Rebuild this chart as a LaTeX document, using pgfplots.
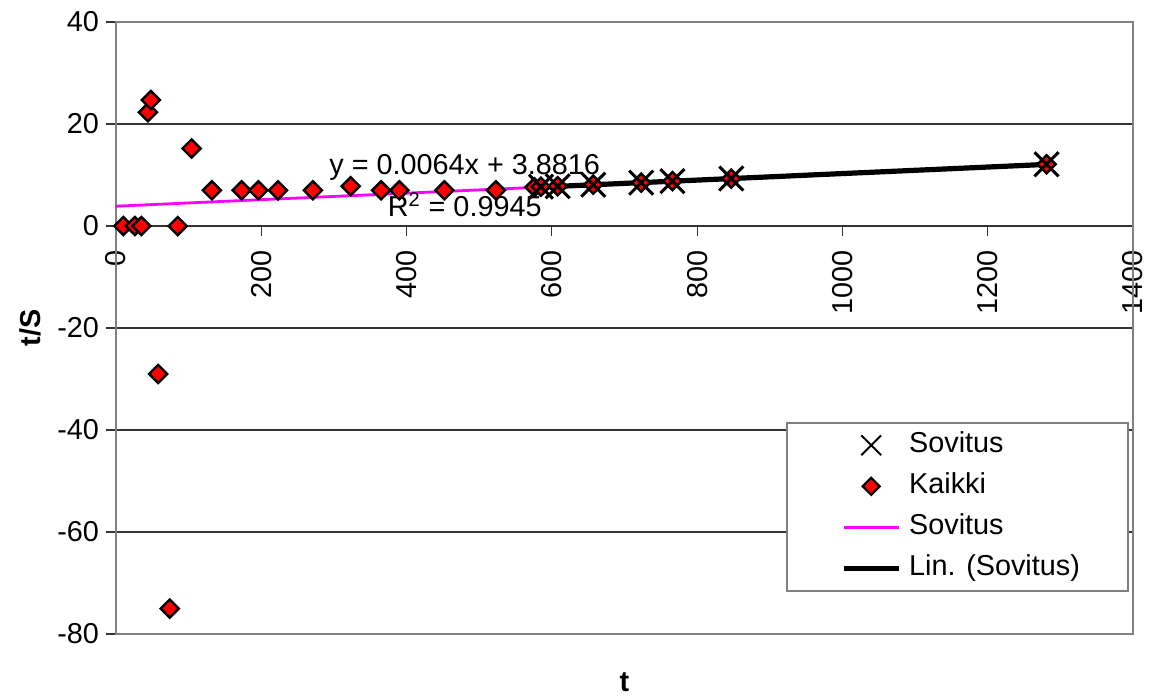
\documentclass[border=0pt]{standalone}
\usepackage{fontspec}
\setmainfont{Liberation Sans}
\usepackage{pgfplots}
\pgfplotsset{compat=1.18}
\definecolor{gridc}{HTML}{333333}
\definecolor{framec}{HTML}{808080}
\definecolor{kred}{HTML}{FF0000}
\definecolor{kmag}{HTML}{FF00FF}
\newcommand{\cf}{\fontsize{14.4}{17}\selectfont}
\pgfplotsset{
  legmark/.style={legend image code/.code={\path (-27pt,0pt) (27.5pt,0pt);
      \draw[mark repeat=2,mark phase=2,##1] plot coordinates {(0pt,0pt)(13.75pt,0pt)(27.5pt,0pt)};}},
  legline/.style={legend image code/.code={\path (-27pt,0pt);
      \draw[##1] (0pt,0pt) -- (27.5pt,0pt);}},
}
\pgfplotstableread{
x y
10 0
26 0
35 0
44 22.3
48 24.7
58 -29
74 -75
85 0
104 15.2
132 7
173 7
196 7
223 7
271 7
323 7.8
365 7
390 7
452 7
523 7
576 7.6
585 7.7
608 7.8
657 8.1
723 8.5
766 8.8
847 9.3
1281 12.1
}\kaikki
\pgfplotstableread{
x y
585 7.7
608 7.8
657 8.1
723 8.5
766 8.8
847 9.3
1281 12.1
}\sovitus
\pgfplotstableread{
x y
0 3.8816
576 7.568
}\sovline
\pgfplotstableread{
x y
576 7.568
1281 12.080
}\trend
\begin{document}
\begin{tikzpicture}
\begin{axis}[
  scale only axis, width=508.5pt, height=306pt,
  xmin=0, xmax=1400, ymin=-80, ymax=40,
  clip=false,
  axis x line=middle, axis y line=left,
  axis line style={-, draw=gridc, line width=0.6pt},
  hide obscured x ticks=false,
  xtick={0,200,...,1400}, ytick={-80,-60,...,40},
  tick align=outside, major tick length=5pt,
  tick style={draw=gridc, line width=0.6pt},
  ymajorgrids, grid style={draw=gridc, line width=0.6pt},
  scaled ticks=false,
  /pgf/number format/1000 sep={},
  /pgf/number format/assume math mode=true,
  tick label style={font=\cf, text=black},
  xticklabel style={yshift=-3.5pt, rotate=90, anchor=east},
  xlabel={\textbf{t}}, ylabel={\textbf{t/S}},
  xlabel style={at={(rel axis cs:0.5,-0.0784)}, anchor=center, font=\cf},
  ylabel style={at={(rel axis cs:-0.0846,0.5)}, anchor=center, font=\cf},
  legend cell align=left,
  legend style={at={(rel axis cs:0.996,0.3464)}, anchor=north east,
    draw=framec, line width=0.75pt, fill=white, font=\cf,
    inner xsep=0pt, inner ysep=3pt, row sep=4pt, column sep=4pt,
    nodes={inner xsep=0pt, inner ysep=1pt, text height=11pt, text depth=3.5pt}},
]
\draw[framec, line width=1pt] (rel axis cs:0,0) rectangle (rel axis cs:1,1);
\addlegendimage{legmark, only marks, mark=x, mark size=7pt, line width=1pt, black}
\addlegendentry{\makebox[109.5pt][l]{Sovitus}}
\addlegendimage{legmark, only marks, mark=square*, mark size=3pt, mark options={rotate=45, fill=kred, draw=black, line width=1.1pt}}
\addlegendentry{\makebox[109.5pt][l]{Kaikki}}
\addlegendimage{legline, draw=kmag, line width=1.4pt}
\addlegendentry{\makebox[109.5pt][l]{Sovitus}}
\addlegendimage{legline, draw=black, line width=2.5pt}
\addlegendentry{\makebox[109.5pt][l]{Lin. (Sovitus)}}
\addplot[forget plot, draw=kmag, line width=1.4pt, mark=none] table[x=x,y=y] {\sovline};
\addplot[forget plot, only marks, mark=square*, mark size=3.2pt, mark options={rotate=45, fill=kred, draw=black, line width=1.2pt}] table[x=x,y=y] {\kaikki};
\addplot[forget plot, only marks, mark=x, mark size=8.5pt, line width=1.5pt, black] table[x=x,y=y] {\sovitus};
\addplot[forget plot, draw=black, line width=2.6pt, mark=none] table[x=x,y=y] {\trend};
\node[anchor=base, font=\cf] at (axis cs:480,10.1) {y = 0.0064x + 3.8816};
\node[anchor=base, font=\cf] at (axis cs:480,1.85) {R\textsuperscript{2} = 0.9945};
\coordinate (ll) at (rel axis cs:0,0);
\coordinate (ur) at (rel axis cs:1,1);
\end{axis}
\path ([shift={(-58pt,-31.5pt)}]ll) rectangle ([shift={(8.5pt,11pt)}]ur);
\end{tikzpicture}
\end{document}
